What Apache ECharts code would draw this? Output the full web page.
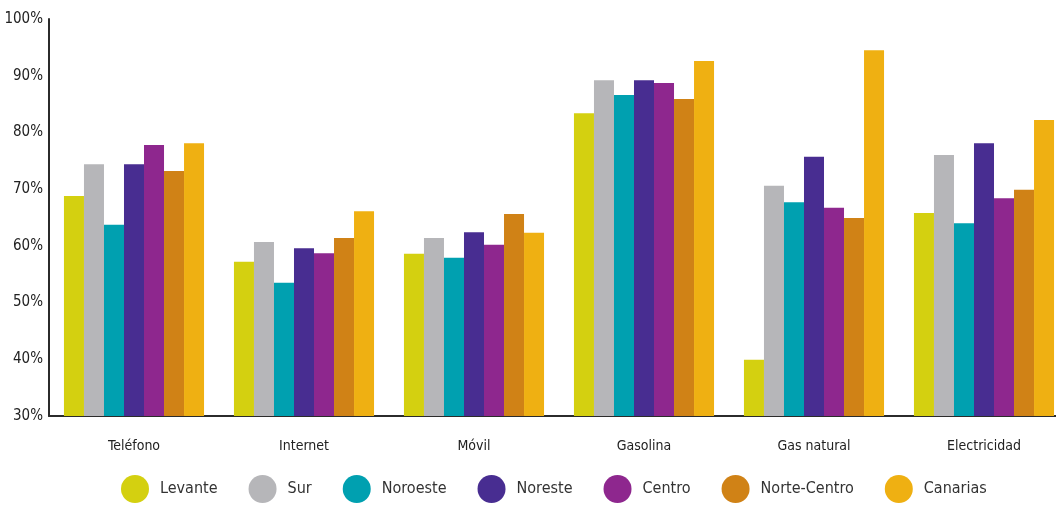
<!DOCTYPE html>
<html>
<head>
<meta charset="utf-8">
<script src="https://cdn.jsdelivr.net/npm/echarts@6/dist/echarts.min.js"></script>
<style>
  html, body { margin: 0; padding: 0; background: #fff; overflow: hidden; }
  #chart { width: 1056px; height: 505px; }
</style>
</head>
<body>
<div id="chart"></div>
<script>
// Categories of expense and regions
const categories = ['Teléfono', 'Internet', 'Móvil', 'Gasolina', 'Gas natural', 'Electricidad'];
const regions = ['Levante', 'Sur', 'Noroeste', 'Noreste', 'Centro', 'Norte-Centro', 'Canarias'];

// Percentage per region, one value per category
const levante     = [68.8, 57.2, 58.6, 83.4, 39.9, 65.8];
const sur         = [74.4, 60.7, 61.4, 89.2, 70.6, 76.0];
const noroeste    = [63.7, 53.5, 57.9, 86.6, 67.7, 64.0];
const noreste     = [74.4, 59.6, 62.4, 89.2, 75.7, 78.1];
const centro      = [77.8, 58.7, 60.2, 88.7, 66.7, 68.4];
const norteCentro = [73.2, 61.4, 65.6, 85.9, 64.9, 69.9];
const canarias    = [78.1, 66.1, 62.3, 92.6, 94.5, 82.2];

const seriesValues = [levante, sur, noroeste, noreste, centro, norteCentro, canarias];
const colors = ['#d4d010', '#b6b6b9', '#00a0b0', '#482d91', '#8e278e', '#d08216', '#efb012'];

const font = '"DejaVu Sans Condensed", "Liberation Sans", sans-serif';

const chart = echarts.init(document.getElementById('chart'), null, { renderer: 'canvas' });
chart.setOption({
  animation: false,
  color: colors,
  // the plot runs slightly past the right edge so the last group sits flush with it
  grid: {
    left: 49, width: 1020, top: 19, bottom: 89,
    containLabel: false,
    outerBoundsMode: 'none'
  },
  legend: {
    data: regions,
    left: 116,
    top: 470,
    icon: 'circle',
    itemWidth: 28,
    itemHeight: 28,
    itemGap: 31,
    textStyle: { fontFamily: font, fontSize: 16, color: '#333', padding: [0, 0, 0, 6] }
  },
  xAxis: {
    type: 'category',
    data: categories,
    axisLine: { lineStyle: { color: '#2b2b2b', width: 2 } },
    axisTick: { show: false },
    axisLabel: { fontFamily: font, fontSize: 14, color: '#222', margin: 23 }
  },
  yAxis: {
    type: 'value',
    min: 30,
    max: 100,
    interval: 10,
    axisLine: { show: true, lineStyle: { color: '#2b2b2b', width: 2 } },
    axisTick: { show: false },
    splitLine: { show: false },
    axisLabel: { fontFamily: font, fontSize: 15, color: '#222', margin: 6, formatter: '{value}%' }
  },
  series: regions.map((name, i) => ({
    name: name,
    type: 'bar',
    data: seriesValues[i],
    barGap: '0%',
    barCategoryGap: '17.6%'
  }))
});
</script>
</body>
</html>
